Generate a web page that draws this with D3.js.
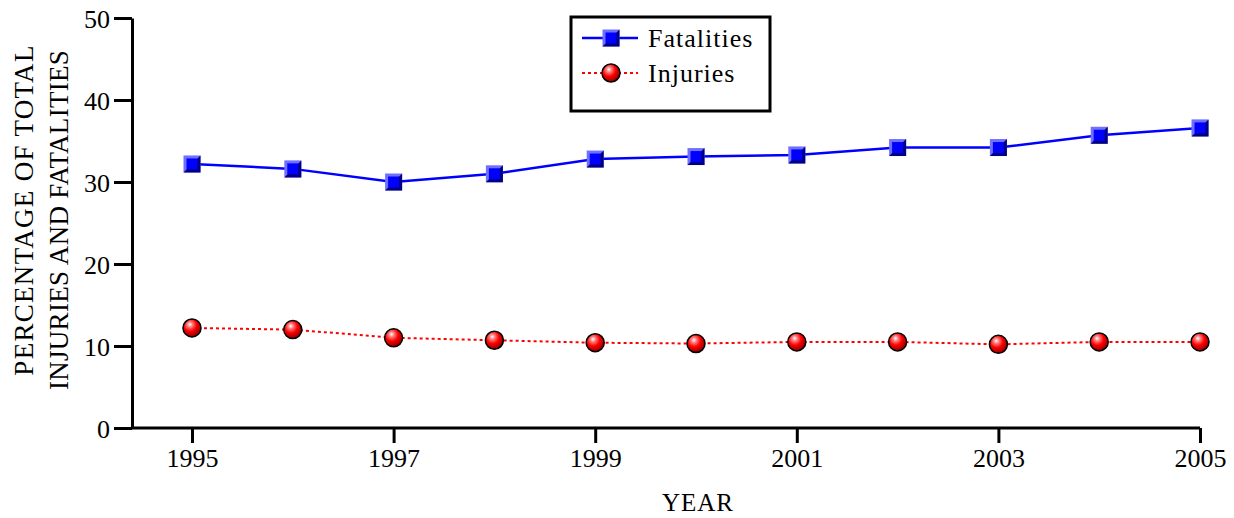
<!DOCTYPE html>
<html>
<head>
<meta charset="utf-8">
<script src="https://cdnjs.cloudflare.com/ajax/libs/d3/7.8.5/d3.min.js"></script>
<style>
  body { margin: 0; background: #fff; }
  text { font-family: "Palatino Linotype", "Book Antiqua", Palatino, "Liberation Serif", serif; fill: #000; }
</style>
</head>
<body>
<svg width="1234" height="518"></svg>
<script>
var years = [1995, 1996, 1997, 1998, 1999, 2000, 2001, 2002, 2003, 2004, 2005];
var fatalities = [32.2, 31.6, 30.0, 31.0, 32.8, 33.1, 33.3, 34.2, 34.2, 35.7, 36.6];
var injuries = [12.2, 12.0, 11.0, 10.7, 10.4, 10.3, 10.5, 10.5, 10.2, 10.5, 10.5];
var xTicks = [1995, 1997, 1999, 2001, 2003, 2005];
var yTicks = [0, 10, 20, 30, 40, 50];

var svg = d3.select("svg");

var xScale = d3.scaleLinear().domain([1995, 2005]).range([192, 1200]);
var yScale = d3.scaleLinear().domain([0, 50]).range([428, 18]);

var defs = svg.append("defs");
var grad = defs.append("radialGradient").attr("id", "ball")
    .attr("cx", "40%").attr("cy", "35%").attr("r", "65%")
    .attr("fx", "38%").attr("fy", "30%");
grad.append("stop").attr("offset", "0%").attr("stop-color", "#ffffff");
grad.append("stop").attr("offset", "22%").attr("stop-color", "#ff8080");
grad.append("stop").attr("offset", "55%").attr("stop-color", "#ff0000");
grad.append("stop").attr("offset", "100%").attr("stop-color", "#900000");

// axes
var yAxis = svg.append("g")
    .attr("transform", "translate(132,0)")
    .call(d3.axisLeft(yScale).tickValues(yTicks).tickSize(18).tickPadding(4).tickSizeOuter(0));
var xAxis = svg.append("g")
    .attr("transform", "translate(0,428)")
    .call(d3.axisBottom(xScale).tickValues(xTicks).tickFormat(d3.format("d")).tickSize(15).tickPadding(6).tickSizeOuter(0));
xAxis.select(".domain").attr("d", "M132,0H1200");
[yAxis, xAxis].forEach(function(a) {
  a.selectAll("path, line").attr("stroke", "#000").attr("stroke-width", 3);
  a.selectAll("text").attr("font-size", 26).style("font-family", null);
});
yAxis.selectAll("text").attr("dy", "0.35em");

// axis titles
svg.append("text").attr("x", 698).attr("y", 511).attr("text-anchor", "middle")
    .attr("font-size", 25).attr("letter-spacing", 1).text("YEAR");
var ylab = ["PERCENTAGE OF TOTAL", "INJURIES AND FATALITIES"];
var ySpacing = [1.3, 0.3];
svg.selectAll(".ylab").data(ylab).enter().append("text")
    .attr("class", "ylab")
    .attr("transform", function(d, i) { return "translate(" + (33 + i * 35) + "," + (210 + i * 10) + ") rotate(-90)"; })
    .attr("text-anchor", "middle").attr("font-size", 27)
    .attr("letter-spacing", function(d, i) { return ySpacing[i]; })
    .text(function(d) { return d; });

var line = d3.line()
    .x(function(d, i) { return xScale(years[i]); })
    .y(function(d) { return yScale(d); });

svg.append("path").datum(injuries).attr("d", line)
    .attr("fill", "none").attr("stroke", "#ff0000").attr("stroke-width", 2)
    .attr("stroke-dasharray", "3,3");
svg.append("path").datum(fatalities).attr("d", line)
    .attr("fill", "none").attr("stroke", "#0000ff").attr("stroke-width", 2.5);

function square(g, x, y) {
  var s = 17, h = s / 2;
  g.append("rect").attr("x", x - h).attr("y", y - h).attr("width", s).attr("height", s).attr("fill", "#7070ff");
  g.append("path").attr("d", "M" + (x + h) + "," + (y - h) + "L" + (x + h) + "," + (y + h) + "L" + (x - h) + "," + (y + h) + "Z")
    .attr("fill", "#000080");
  g.append("rect").attr("x", x - h + 3).attr("y", y - h + 3).attr("width", s - 6).attr("height", s - 6).attr("fill", "#0000ff");
}
function ball(g, x, y) {
  g.append("circle").attr("cx", x).attr("cy", y).attr("r", 9)
    .attr("fill", "url(#ball)").attr("stroke", "#000").attr("stroke-width", 1.5);
}

var marks = svg.append("g");
fatalities.forEach(function(d, i) { square(marks, xScale(years[i]), yScale(d)); });
injuries.forEach(function(d, i) { ball(marks, xScale(years[i]), yScale(d)); });

// legend
var lg = svg.append("g");
lg.append("rect").attr("x", 571).attr("y", 17).attr("width", 199).attr("height", 94)
    .attr("fill", "#fff").attr("stroke", "#000").attr("stroke-width", 3);
lg.append("line").attr("x1", 582).attr("x2", 638).attr("y1", 38).attr("y2", 38)
    .attr("stroke", "#0000ff").attr("stroke-width", 2.5);
square(lg, 611, 38);
lg.append("line").attr("x1", 582).attr("x2", 638).attr("y1", 73).attr("y2", 73)
    .attr("stroke", "#ff0000").attr("stroke-width", 2).attr("stroke-dasharray", "3,3");
ball(lg, 611, 73);
lg.append("text").attr("x", 648).attr("y", 47).attr("font-size", 26).attr("letter-spacing", 1).text("Fatalities");
lg.append("text").attr("x", 648).attr("y", 82).attr("font-size", 26).attr("letter-spacing", 1).text("Injuries");
</script>
</body>
</html>
